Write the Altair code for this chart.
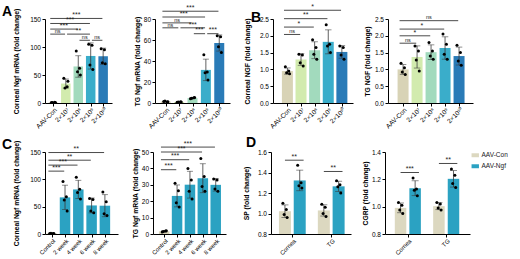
import json
import altair as alt
import pandas as pd

FONT = "Liberation Sans"

# ---------------- categories / colours ----------------
dose_labels = ["AAV-Con", "2×10⁷", "2×10⁸", "2×10⁹", "2×10¹⁰"]
dose_colors = ["#d8d3b6", "#d2ebae", "#a2dabd", "#3aadca", "#2a7bb7"]

time_labels = ["Control", "2 week", "4 week", "6 week", "8 week"]
time_colors = ["#d8d3b6", "#2ba2c2", "#2ba2c2", "#2ba2c2", "#2ba2c2"]

d_groups = ["Cornea", "TG"]
d_treatments = ["AAV-Con", "AAV-Ngf"]
d_colors = ["#dcd8c0", "#2ba2c2"]

# ---------------- values (4 replicates per bar) ----------------
a1_vals = [[0.8, 1.2, 1.0, 1.1], [44, 29, 27, 39], [93, 62, 56, 50],
           [105, 103, 68, 60], [97, 95, 72, 70]]
a2_vals = [[1.5, 1.0, 2.0, 1.2], [0.8, 1.2, 1.0, 0.9], [4.0, 5.0, 4.5, 5.2],
           [46, 29.6, 28.7, 21.8], [64, 63, 53.6, 48]]
b1_vals = [[1.08, 0.95, 0.90, 0.87], [1.45, 1.43, 1.20, 1.10], [1.88, 1.65, 1.45, 1.30],
           [2.33, 1.75, 1.70, 1.50], [1.70, 1.65, 1.43, 1.30]]
b2_vals = [[1.18, 1.05, 0.92, 0.85], [1.70, 1.55, 1.28, 0.95], [1.80, 1.55, 1.40, 1.30],
           [2.05, 1.75, 1.45, 1.30], [1.72, 1.50, 1.25, 1.12]]
c1_vals = [[1.0, 0.8, 1.2, 1.1], [96, 68, 62, 42], [104, 82, 76, 64],
           [65, 63, 42, 39], [77, 59, 37, 34]]
c2_vals = [[1.2, 1.8, 1.5, 2.0], [31, 26.4, 19, 16.5], [40, 33, 26, 21.3],
           [46, 35, 29, 26], [33.5, 33, 27.4, 26]]
# D: [group][treatment] -> replicates
d1_vals = [[[1.10, 1.04, 0.99, 0.96], [1.47, 1.30, 1.27, 1.25]],
           [[1.09, 1.06, 1.00, 0.97], [1.32, 1.28, 1.26, 1.20]]]
d2_vals = [[[1.03, 1.01, 0.975, 0.95], [1.21, 1.13, 1.12, 1.08]],
           [[1.03, 1.02, 0.99, 0.975], [1.275, 1.23, 1.17, 1.14]]]

# ---------------- significance annotations (from, to, level, label) ----------------
a1_sig = [(0, 4, 151, "***"), (0, 3, 142, "***"), (0, 2, 132, "***"), (0, 1, 123, "ns"),
          (1, 3, 123, "**"), (2, 3, 112, "ns"), (3, 4, 112, "ns")]
a2_sig = [(0, 4, 87.4, "***"), (0, 3, 81.9, "***"), (0, 2, 76.3, "ns"), (0, 1, 71.6, "ns"),
          (1, 3, 71.6, "***"), (2, 3, 66, "***"), (3, 4, 66, "***")]
b1_sig = [(0, 4, 2.76, "*"), (0, 3, 2.51, "**"), (0, 2, 2.26, "*"), (0, 1, 2.04, "ns")]
b2_sig = [(0, 4, 2.45, "ns"), (0, 3, 2.2, "*"), (0, 2, 2.0, "*"), (0, 1, 1.78, "ns")]
c1_sig = [(0, 4, 149, "**"), (0, 3, 135, "**"), (0, 2, 126, "***"), (0, 1, 115, "***")]
c2_sig = [(0, 4, 53, "***"), (0, 3, 50, "***"), (0, 2, 45.3, "***"), (0, 1, 39.2, "***")]
# D: (group index, level, label)
d1_sig = [(0, 1.52, "**"), (1, 1.41, "**")]
d2_sig = [(0, 1.25, "***"), (1, 1.316, "**")]


def cat_points(labels, vals):
    rows = []
    for i, (c, vs) in enumerate(zip(labels, vals)):
        for k, v in enumerate(vs):
            rows.append({"pos": i, "cat": c, "value": v, "rep": k})
    return pd.DataFrame(rows)


def group_points(groups, treats, vals, half):
    rows = []
    for g, gname in enumerate(groups):
        for t, tname in enumerate(treats):
            for k, v in enumerate(vals[g][t]):
                rows.append({"pos": g + 1 + (half if t else -half), "cat": tname,
                             "value": v, "rep": k})
    return pd.DataFrame(rows)


def panel(df, cats, colors, sig_df, ydom, yticks, ytitle, width, height, xdom,
          xvals, xlabels, bar_px, cap_px, title_pad, jit_px=2.6,
          letter=None, letter_x=0, letter_y=0, legend=None, fmt=None, xfont=6.5):
    step = width / (xdom[1] - xdom[0])
    xs = alt.Scale(domain=xdom, nice=False, zero=False)
    ys = alt.Scale(domain=ydom, nice=False, zero=False)
    xaxis = alt.Axis(values=xvals,
                     labelExpr=f"{json.dumps(xlabels)}[indexof({json.dumps(xvals)}, datum.value)]",
                     labelAngle=315, labelAlign="right", labelBaseline="top",
                     labelFontSize=xfont, labelPadding=0.5, title=None, tickSize=3,
                     labelOverlap=False, labelFlush=False)
    yargs = dict(values=yticks, title=ytitle, titlePadding=title_pad, tickSize=3,
                 labelOverlap=False, labelFlush=False)
    if fmt:
        yargs["format"] = fmt
    yaxis = alt.Axis(**yargs)

    def X(f):
        return alt.X(f, scale=xs, axis=xaxis)

    def Y(f):
        return alt.Y(f, scale=ys, axis=yaxis)

    base = alt.Chart(df)
    agg = base.transform_aggregate(
        m="mean(value)", sd="stdev(value)", groupby=["pos", "cat"]
    ).transform_calculate(lo="datum.m - datum.sd", hi="datum.m + datum.sd")

    bars = agg.mark_bar(size=bar_px).encode(
        x=X("pos:Q"),
        y=Y("m:Q"),
        y2=alt.datum(ydom[0]),
        color=alt.Color("cat:N", scale=alt.Scale(domain=cats, range=colors), legend=legend),
    )
    err = agg.mark_rule(color="#3a3a3a", strokeWidth=0.8).encode(
        x=X("pos:Q"), y=Y("lo:Q"), y2="hi:Q")
    cap_hi = agg.mark_tick(orient="horizontal", size=cap_px, thickness=0.8,
                           color="#3a3a3a").encode(x=X("pos:Q"), y=Y("hi:Q"))
    cap_lo = agg.mark_tick(orient="horizontal", size=cap_px, thickness=0.8,
                           color="#3a3a3a").encode(x=X("pos:Q"), y=Y("lo:Q"))
    j = jit_px / step
    dots = base.transform_calculate(
        xj=f"datum.pos + [-{0.9*j}, {0.6*j}, -{0.35*j}, {0.95*j}][datum.rep]"
    ).mark_circle(size=9, color="black", opacity=1).encode(x=X("xj:Q"), y=Y("value:Q"))

    sig = alt.Chart(sig_df)
    lines = sig.mark_rule(color="#4a4a4a", strokeWidth=1).encode(
        x=X("a:Q"), x2="b:Q", y=Y("y:Q"))
    texts = sig.transform_calculate(mid="(datum.a + datum.b) / 2").mark_text(
        font=FONT, baseline="alphabetic", dy=-1.3, color="#222"
    ).encode(
        x=X("mid:Q"), y=Y("y:Q"), text="label:N",
        size=alt.condition("datum.label == 'ns'", alt.value(5.5), alt.value(7)),
    )
    layers = [bars, err, cap_hi, cap_lo, dots, lines, texts]
    if letter:
        lab = alt.Chart(pd.DataFrame({"t": [letter]})).mark_text(
            font=FONT, fontSize=14, fontWeight="bold", align="left", baseline="alphabetic",
            color="black"
        ).encode(text="t:N", x=alt.value(letter_x), y=alt.value(letter_y))
        layers.append(lab)
    return alt.layer(*layers).properties(width=width, height=height)


def cat_sig(sigs):
    rows = []
    for i1, i2, y, lab in sigs:
        a = i1 - 0.25 if i1 == 0 else i1 + 0.1
        b = i2 - 0.06
        rows.append({"a": a, "b": b, "y": y, "label": lab})
    return pd.DataFrame(rows)


def grp_sig(sigs, half):
    rows = []
    for g, y, lab in sigs:
        rows.append({"a": g + 1 - half, "b": g + 1 + half + 0.1, "y": y, "label": lab})
    return pd.DataFrame(rows)


H1, H2 = 84, 82
xv5 = [0, 1, 2, 3, 4]

A1 = panel(cat_points(dose_labels, a1_vals), dose_labels, dose_colors, cat_sig(a1_sig),
           [0, 150], [0, 50, 100, 150], "Corneal Ngf mRNA (fold change)", 67, H1,
           [-0.27, 4.31], xv5, dose_labels, 9.5, 6, 10, letter="A", letter_x=-43,
           letter_y=-3)
A2 = panel(cat_points(dose_labels, a2_vals), dose_labels, dose_colors, cat_sig(a2_sig),
           [0, 80], [0, 20, 40, 60, 80], "TG Ngf mRNA (fold change)", 75, H1,
           [-0.43, 4.43], xv5, dose_labels, 10, 6, 3)
B1 = panel(cat_points(dose_labels, b1_vals), dose_labels, dose_colors, cat_sig(b1_sig),
           [0, 2.5], [0, 0.5, 1.0, 1.5, 2.0, 2.5], "Corneal NGF (fold change)", 80, H1,
           [-0.69, 4.45], xv5, dose_labels, 11, 6.5, 9, letter="B", letter_x=-22,
           letter_y=3, fmt=".1f")
B2 = panel(cat_points(dose_labels, b2_vals), dose_labels, dose_colors, cat_sig(b2_sig),
           [0, 2.5], [0, 0.5, 1.0, 1.5, 2.0, 2.5], "TG NGF (fold change)", 85, H1,
           [-0.72, 4.64], xv5, dose_labels, 11, 6.5, 4, fmt=".1f")

C1 = panel(cat_points(time_labels, c1_vals), time_labels, time_colors, cat_sig(c1_sig),
           [0, 150], [0, 50, 100, 150], "Corneal Ngf mRNA (fold change)", 73, H2,
           [-0.13, 4.61], xv5, time_labels, 10.5, 6, 10, letter="C", letter_x=-43,
           letter_y=-3, xfont=6)
C2 = panel(cat_points(time_labels, c2_vals), time_labels, time_colors, cat_sig(c2_sig),
           [0, 50], [0, 10, 20, 30, 40, 50], "TG Ngf mRNA (fold change)", 73, H2,
           [-0.48, 4.41], xv5, time_labels, 10.5, 6, 3, xfont=6)

HALF = 0.19
D1 = panel(group_points(d_groups, d_treatments, d1_vals, HALF), d_treatments, d_colors,
           grp_sig(d1_sig, HALF), [0.8, 1.6], [0.8, 1.0, 1.2, 1.4, 1.6], "SP (fold change)",
           80, H2, [0.58, 2.38], [1, 2], d_groups, 12, 7, 8, letter="D", letter_x=-25,
           letter_y=-5, fmt=".1f", xfont=6)
legend = alt.Legend(title=None, orient="right", offset=2, padding=0,
                    symbolType="M-1.4,-0.75H1.4V0.75H-1.4Z", symbolSize=28,
                    symbolStrokeWidth=0, labelFontSize=6.5, labelFont=FONT,
                    labelColor="#222", rowPadding=4, labelOffset=3)
D2 = panel(group_points(d_groups, d_treatments, d2_vals, HALF), d_treatments, d_colors,
           grp_sig(d2_sig, HALF), [0.8, 1.4], [0.8, 1.0, 1.2, 1.4], "CGRP (fold change)",
           85, H2, [0.535, 2.49], [1, 2], d_groups, 11.5, 7, 3, legend=legend, fmt=".1f",
           xfont=6)


def hc(*charts, spacing):
    return alt.hconcat(*charts, spacing=spacing).resolve_scale(color="independent").resolve_legend(color="independent")


row1 = hc(hc(A1, A2, spacing=22), hc(B1, B2, spacing=11), spacing=14)
row2 = hc(hc(C1, C2, spacing=14), hc(D1, D2, spacing=11), spacing=17)

chart = alt.vconcat(row1, row2, spacing=6).resolve_scale(color="independent").resolve_legend(
    color="independent"
).properties(padding={"left": 2, "top": 2, "right": 0, "bottom": 0}).configure_view(
    stroke=None
).configure_axis(
    domainColor="black", tickColor="black", labelColor="black", titleColor="black",
    labelFont=FONT, titleFont=FONT, labelFontSize=6.5, titleFontSize=6.8,
    titleFontWeight="bold", domainWidth=1, tickWidth=1, grid=False, labelPadding=1.5,
    labelOverlap=False, labelFlush=False,
)

chart.save("out.html", embed_options={"renderer": "svg", "actions": False})
